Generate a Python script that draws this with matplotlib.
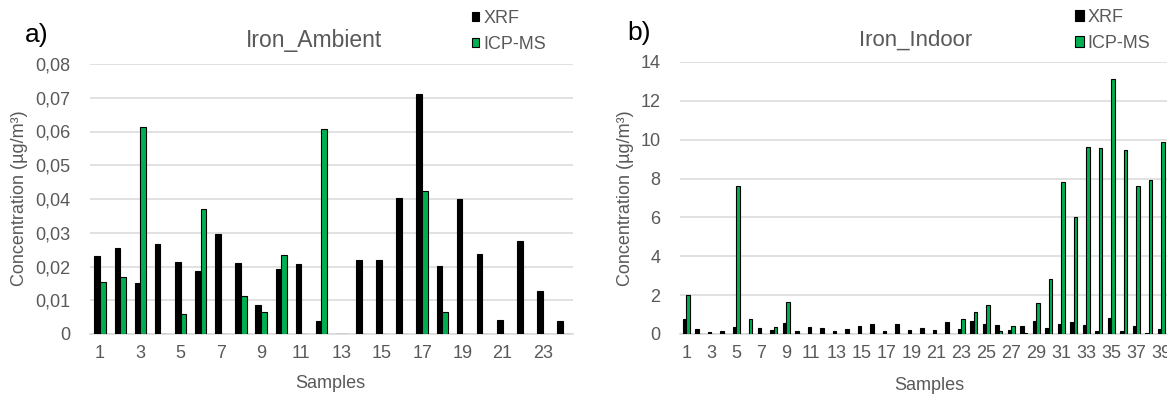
import numpy as np
import matplotlib
matplotlib.use('Agg')
import matplotlib.pyplot as plt

plt.rcParams['font.family'] = ['Liberation Sans', 'DejaVu Sans']

# Iron, ambient samples (µg/m³)
amb_samples = list(range(1, 25))
amb_xrf = [0.0231, 0.0254, 0.0150, 0.0266, 0.0212, 0.0186, 0.0295, 0.0210, 0.0086, 0.0194,
           0.0207, 0.0038, 0.0, 0.0219, 0.0219, 0.0402, 0.0710, 0.0202, 0.0399, 0.0238,
           0.0041, 0.0277, 0.0126, 0.0039]
amb_icp = [0.0153, 0.0168, 0.0612, 0.0, 0.0059, 0.0371, 0.0, 0.0113, 0.0065, 0.0234,
           0.0, 0.0606, 0.0, 0.0, 0.0, 0.0, 0.0424, 0.0066, 0.0, 0.0,
           0.0, 0.0, 0.0, 0.0]

# Iron, indoor samples (µg/m³)
ind_samples = list(range(1, 40))
ind_xrf = [0.77, 0.26, 0.10, 0.14, 0.38, 0.0, 0.29, 0.20, 0.58, 0.14,
           0.36, 0.29, 0.14, 0.24, 0.41, 0.53, 0.15, 0.51, 0.20, 0.31,
           0.20, 0.63, 0.27, 0.66, 0.50, 0.46, 0.19, 0.41, 0.66, 0.31,
           0.49, 0.61, 0.47, 0.14, 0.83, 0.15, 0.41, 0.05, 0.27]
ind_icp = [2.00, 0.0, 0.0, 0.0, 7.61, 0.76, 0.0, 0.38, 1.65, 0.0,
           0.0, 0.0, 0.0, 0.0, 0.0, 0.0, 0.0, 0.0, 0.0, 0.0,
           0.0, 0.0, 0.78, 1.12, 1.50, 0.15, 0.41, 0.07, 1.58, 2.83,
           7.82, 6.03, 9.64, 9.57, 13.11, 9.45, 7.61, 7.92, 9.90]

amb_yticks = [0, 0.01, 0.02, 0.03, 0.04, 0.05, 0.06, 0.07, 0.08]
amb_ylabels = ['0', '0,01', '0,02', '0,03', '0,04', '0,05', '0,06', '0,07', '0,08']
ind_yticks = [0, 2, 4, 6, 8, 10, 12, 14]

W, H = 1167, 394
GRAY = '#595959'
GREEN = '#00b050'

fig = plt.figure(figsize=(W / 100, H / 100), dpi=100)


def px_axes(x0, y0, x1, y1):
    # pixel box (top-left origin) -> figure axes
    return fig.add_axes([x0 / W, 1 - y1 / H, (x1 - x0) / W, (y1 - y0) / H])


def draw_panel(ax, samples, xrf, icp, xlim, yticks, ylabels, ylim):
    x = np.array(samples)
    w = 0.28
    ax.bar(x - w / 2, xrf, width=w, color='black', edgecolor='black', linewidth=0.8,
           label='XRF', zorder=3)
    ax.bar(x + w / 2, icp, width=w, color=GREEN, edgecolor='black', linewidth=0.8,
           label='ICP-MS', zorder=3)
    ax.set_xlim(*xlim)
    ax.set_ylim(*ylim)
    ax.set_yticks(yticks)
    ax.set_yticklabels(ylabels)
    ax.set_xticks(x[::2])
    ax.set_xticklabels([str(s) for s in samples[::2]])
    ax.grid(axis='y', color='#d9d9d9', linewidth=1.1, zorder=0)
    ax.set_axisbelow(True)
    for s in ['top', 'right', 'left']:
        ax.spines[s].set_visible(False)
    ax.spines['bottom'].set_color('#d9d9d9')
    ax.spines['bottom'].set_linewidth(1.1)
    ax.tick_params(axis='both', length=0, labelsize=13, labelcolor=GRAY)
    ax.tick_params(axis='y', pad=14)
    ax.tick_params(axis='x', pad=8)


# a) ambient
ax1 = px_axes(90, 64, 573, 334)
draw_panel(ax1, amb_samples, amb_xrf, amb_icp, (0.5, 24.5), amb_yticks, amb_ylabels, (0, 0.08))
ax1.set_ylabel('Concentration (µg/m³)', fontsize=13, color=GRAY, va='center')
ax1.yaxis.set_label_coords(20 / W, 1 - 198 / H, transform=fig.transFigure)
ax1.set_xlabel('Samples', fontsize=13, color=GRAY, va='center')
ax1.xaxis.set_label_coords(330 / W, 1 - 383 / H, transform=fig.transFigure)
ax1.legend(loc='upper left', bbox_to_anchor=(472 / W, 1 - 10 / H), bbox_transform=fig.transFigure,
           frameon=False, fontsize=13, labelcolor=GRAY, borderpad=0, borderaxespad=0,
           handlelength=0.38, handleheight=0.38, handletextpad=0.25, labelspacing=0.5)

# b) indoor
ax2 = px_axes(680, 62, W, 334)
draw_panel(ax2, ind_samples, ind_xrf, ind_icp, (0.5, 39.46), ind_yticks,
           [str(t) for t in ind_yticks], (0, 14))
ax2.set_ylabel('Concentration (µg/m³)', fontsize=13, color=GRAY, va='center')
ax2.yaxis.set_label_coords(625 / W, 1 - 198 / H, transform=fig.transFigure)
ax2.set_xlabel('Samples', fontsize=13, color=GRAY, va='center')
ax2.xaxis.set_label_coords(929 / W, 1 - 386 / H, transform=fig.transFigure)
ax2.legend(loc='upper left', bbox_to_anchor=(1075 / W, 1 - 9 / H), bbox_transform=fig.transFigure,
           frameon=False, fontsize=13, labelcolor=GRAY, borderpad=0, borderaxespad=0,
           handlelength=0.5, handleheight=0.5, handletextpad=0.2, labelspacing=0.5)

# titles and panel letters
fig.text(314 / W, 1 - 40 / H, 'Iron_Ambient', fontsize=16.5, color=GRAY, ha='center', va='center')
fig.text(916 / W, 1 - 40 / H, 'Iron_Indoor', fontsize=16, color=GRAY, ha='center', va='center')
fig.text(25 / W, 1 - 35 / H, 'a)', fontsize=19, color='black', ha='left', va='center')
fig.text(627 / W, 1 - 33 / H, 'b)', fontsize=19, color='black', ha='left', va='center')

fig.savefig('out.png', dpi=100)
